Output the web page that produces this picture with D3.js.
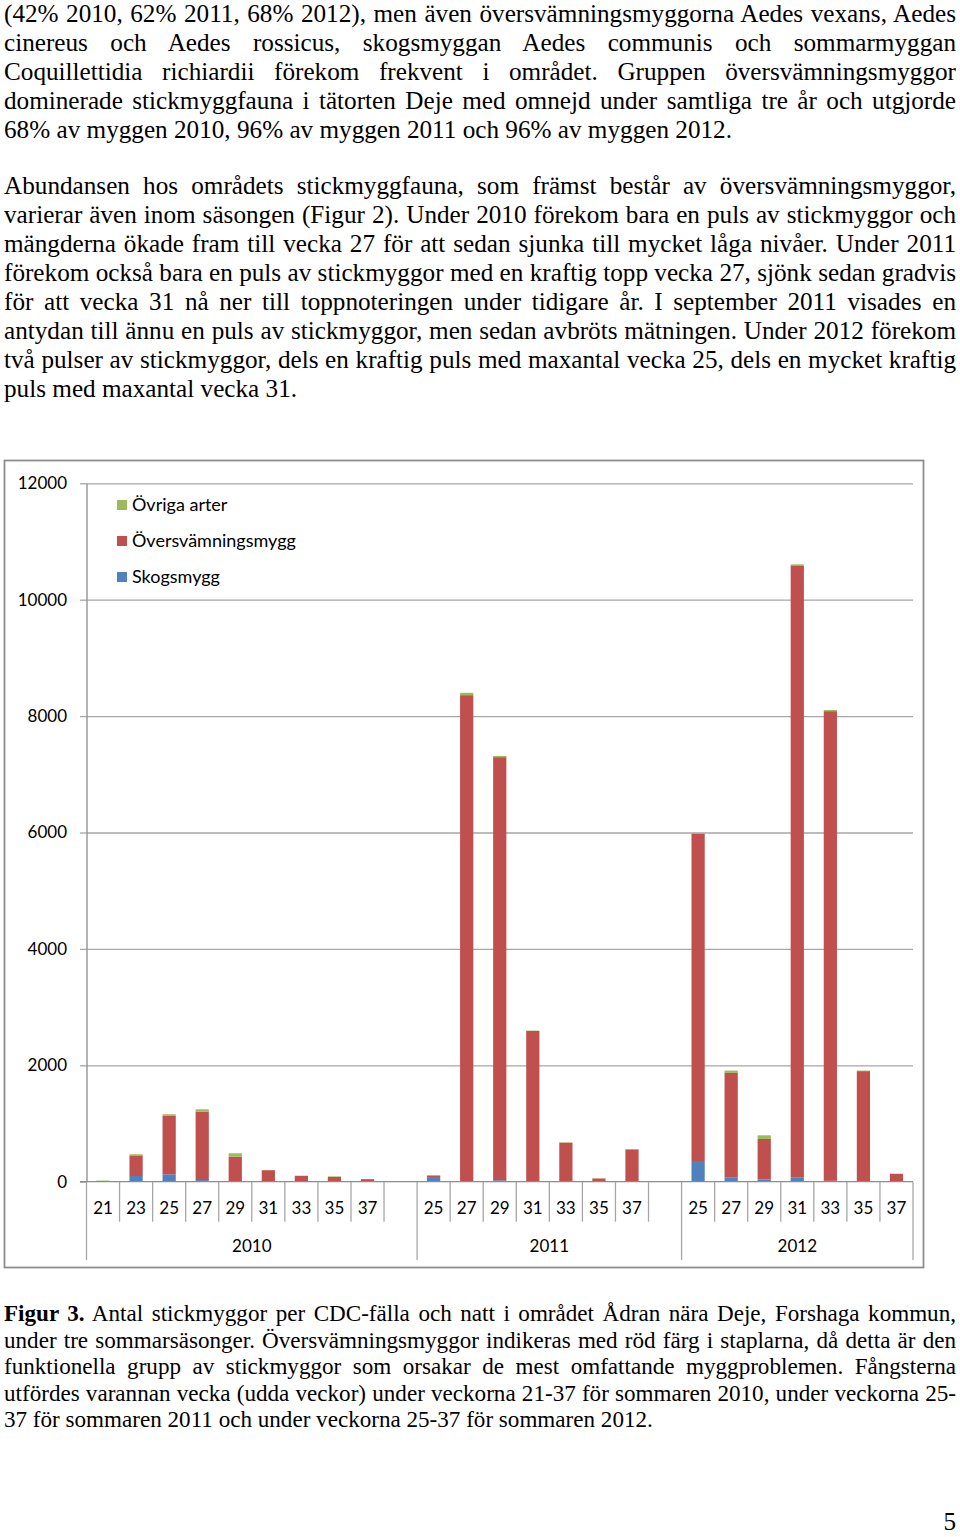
<!DOCTYPE html>
<html>
<head>
<meta charset="utf-8">
<script src="https://cdn.jsdelivr.net/npm/d3@7"></script>
<style>
  body { margin: 0; background: #fff; }
  svg { display: block; }
</style>
</head>
<body>
<svg id="page" width="960" height="1537"></svg>
<script>
// Chart data
var years = ['2010', '2011', '2012'];
var weeks2010 = ['21', '23', '25', '27', '29', '31', '33', '35', '37', ''];
var weeks2011 = ['25', '27', '29', '31', '33', '35', '37', ''];
var weeks2012 = ['25', '27', '29', '31', '33', '35', '37'];

// one value per category, null where the slot is empty
var skogsmygg = [2, 98, 127, 28, 8, 5, 3, 2, 2, null,
                 80, 10, 25, 10, 5, 5, 10, null,
                 356, 69, 40, 69, 15, 10, 5];
var oversvamningsmygg = [10, 353, 1011, 1176, 423, 193, 98, 80, 42, null,
                         20, 8350, 7270, 2580, 665, 50, 545, null,
                         5620, 1800, 694, 10510, 8070, 1890, 130];
var ovrigaArter = [8, 20, 20, 40, 57, 3, 2, 10, 2, null,
                   15, 40, 20, 7, 7, 3, 7, null,
                   14, 40, 63, 28, 19, 9, 3];

var seriesNames = ['Skogsmygg', 'Översvämningsmygg', 'Övriga arter'];
var seriesColors = ['#4F81BD', '#C0504D', '#9BBB59'];
var yTicks = [0, 2000, 4000, 6000, 8000, 10000, 12000];

// Page text
var para1 = [
  '(42% 2010, 62% 2011, 68% 2012), men även översvämningsmyggorna Aedes vexans, Aedes',
  'cinereus och Aedes rossicus, skogsmyggan Aedes communis och sommarmyggan',
  'Coquillettidia richiardii förekom frekvent i området. Gruppen översvämningsmyggor',
  'dominerade stickmyggfauna i tätorten Deje med omnejd under samtliga tre år och utgjorde',
  '68% av myggen 2010, 96% av myggen 2011 och 96% av myggen 2012.'
];
var para2 = [
  'Abundansen hos områdets stickmyggfauna, som främst består av översvämningsmyggor,',
  'varierar även inom säsongen (Figur 2). Under 2010 förekom bara en puls av stickmyggor och',
  'mängderna ökade fram till vecka 27 för att sedan sjunka till mycket låga nivåer. Under 2011',
  'förekom också bara en puls av stickmyggor med en kraftig topp vecka 27, sjönk sedan gradvis',
  'för att vecka 31 nå ner till toppnoteringen under tidigare år. I september 2011 visades en',
  'antydan till ännu en puls av stickmyggor, men sedan avbröts mätningen. Under 2012 förekom',
  'två pulser av stickmyggor, dels en kraftig puls med maxantal vecka 25, dels en mycket kraftig',
  'puls med maxantal vecka 31.'
];
var captionLabel = 'Figur 3.';
var caption = [
  ' Antal stickmyggor per CDC-fälla och natt i området Ådran nära Deje, Forshaga kommun,',
  'under tre sommarsäsonger. Översvämningsmyggor indikeras med röd färg i staplarna, då detta är den',
  'funktionella grupp av stickmyggor som orsakar de mest omfattande myggproblemen. Fångsterna',
  'utfördes varannan vecka (udda veckor) under veckorna 21-37 för sommaren 2010, under veckorna 25-',
  '37 för sommaren 2011 och under veckorna 25-37 för sommaren 2012.'
];

var svg = d3.select('#page');
svg.append('rect').attr('width', 960).attr('height', 1537).attr('fill', '#fff');

var textLeft = 4, textRight = 956;

// draws justified lines (last one left aligned)
function drawLines(lines, y0, lineH, size, boldFirst) {
    lines.forEach(function(line, i) {
        var t = svg.append('text')
            .attr('x', textLeft)
            .attr('y', y0 + i * lineH)
            .style('font-family', '"Liberation Serif", "Times New Roman", serif')
            .style('font-size', size + 'px')
            .attr('fill', '#000');
        if (boldFirst && i == 0) {
            t.append('tspan').style('font-weight', 'bold').text(boldFirst);
        }
        t.append('tspan').text(line);
        if (i < lines.length - 1) {
            var full = (boldFirst && i == 0 ? boldFirst : '') + line;
            var spaces = full.split(' ').length - 1;
            var w = t.node().getComputedTextLength();
            var extra = (textRight - textLeft - w) / spaces;
            t.style('word-spacing', extra + 'px');
        }
    });
}

drawLines(para1, 21.5, 29, 25.2);
drawLines(para2, 194, 29, 25.2);
drawLines(caption, 1321, 26.5, 23.1, captionLabel);

svg.append('text')
    .attr('x', 956).attr('y', 1530)
    .attr('text-anchor', 'end')
    .style('font-family', '"Liberation Serif", serif')
    .style('font-size', '25.2px')
    .text('5');

// ---- chart ----
var chartFont = 'Lato, "Open Sans", sans-serif';

svg.append('rect')
    .attr('x', 4.5).attr('y', 460.5)
    .attr('width', 919).attr('height', 807)
    .attr('fill', '#fff')
    .attr('stroke', '#8c8c8c')
    .attr('stroke-width', 1.8);

// categories
var groups = [weeks2010, weeks2011, weeks2012];
var categories = [];
groups.forEach(function(weeks, gi) {
    weeks.forEach(function(w, wi) {
        categories.push({key: years[gi] + '-' + wi, year: years[gi], week: w});
    });
});
var rows = categories.map(function(c, i) {
    return {
        key: c.key,
        'Skogsmygg': skogsmygg[i] || 0,
        'Översvämningsmygg': oversvamningsmygg[i] || 0,
        'Övriga arter': ovrigaArter[i] || 0
    };
});

var plot = {l: 86.5, r: 913, t: 483.3, b: 1181.7};

var x = d3.scaleBand()
    .domain(categories.map(function(d) { return d.key; }))
    .range([plot.l, plot.r])
    .paddingInner(0.6)
    .paddingOuter(0.3);

var y = d3.scaleLinear()
    .domain([0, 12000])
    .range([plot.b, plot.t]);

// gridlines
svg.append('g')
    .attr('transform', 'translate(' + plot.l + ',0)')
    .call(d3.axisLeft(y).tickValues(yTicks.slice(1)).tickSize(-(plot.r - plot.l)).tickFormat(''))
    .call(function(g) {
        g.select('.domain').remove();
        g.selectAll('.tick line').attr('stroke', '#a6a6a6').attr('stroke-width', 1.3);
    });

// y axis with labels
svg.append('g')
    .attr('transform', 'translate(' + plot.l + ',0)')
    .call(d3.axisLeft(y).tickValues(yTicks).tickFormat(d3.format('d'))
        .tickSize(6.5).tickPadding(13).tickSizeOuter(0))
    .call(function(g) {
        g.select('.domain').attr('stroke', '#8c8c8c').attr('stroke-width', 1.3);
        g.selectAll('.tick line').attr('stroke', '#a6a6a6').attr('stroke-width', 1.3);
        g.selectAll('.tick text')
            .style('font-family', chartFont)
            .style('font-size', '17px')
            .attr('fill', '#000');
    });

// stacked bars
var stack = d3.stack().keys(seriesNames);
var stacked = stack(rows);

svg.append('g').selectAll('g')
    .data(stacked)
    .enter().append('g')
    .attr('fill', function(d, i) { return seriesColors[i]; })
    .selectAll('rect')
    .data(function(d) { return d; })
    .enter().append('rect')
    .attr('x', function(d) { return x(d.data.key); })
    .attr('width', x.bandwidth())
    .attr('y', function(d) { return y(d[1]); })
    .attr('height', function(d) { return y(d[0]) - y(d[1]); });

// x axis line
svg.append('line')
    .attr('x1', plot.l - 6.5).attr('x2', plot.r)
    .attr('y1', plot.b).attr('y2', plot.b)
    .attr('stroke', '#8c8c8c').attr('stroke-width', 1.3);

// category separators and labels
var cellStart = function(k) { return x(k) - x.step() * 0.3; };
var axisG = svg.append('g');
categories.forEach(function(c, i) {
    var first = i == 0 || categories[i - 1].year != c.year;
    axisG.append('line')
        .attr('x1', cellStart(c.key)).attr('x2', cellStart(c.key))
        .attr('y1', plot.b).attr('y2', first ? 1260 : 1221.7)
        .attr('stroke', '#a6a6a6').attr('stroke-width', 1.3);
    axisG.append('text')
        .attr('x', x(c.key) + x.bandwidth() / 2)
        .attr('y', 1214)
        .attr('text-anchor', 'middle')
        .style('font-family', chartFont)
        .style('font-size', '17px')
        .text(c.week);
});
axisG.append('line')
    .attr('x1', plot.r).attr('x2', plot.r)
    .attr('y1', plot.b).attr('y2', 1260)
    .attr('stroke', '#a6a6a6').attr('stroke-width', 1.3);

years.forEach(function(yr) {
    var cats = categories.filter(function(c) { return c.year == yr; });
    var a = cellStart(cats[0].key);
    var b = cellStart(cats[cats.length - 1].key) + x.step();
    axisG.append('text')
        .attr('x', (a + b) / 2)
        .attr('y', 1252)
        .attr('text-anchor', 'middle')
        .style('font-family', chartFont)
        .style('font-size', '17px')
        .text(yr);
});

// legend (top to bottom: Övriga, Översvämning, Skogsmygg)
var legendOrder = [2, 1, 0];
var legend = svg.append('g').selectAll('g')
    .data(legendOrder)
    .enter().append('g')
    .attr('transform', function(d, i) { return 'translate(117,' + (500 + i * 36) + ')'; });
legend.append('rect')
    .attr('width', 10).attr('height', 10)
    .attr('fill', function(d) { return seriesColors[d]; });
legend.append('text')
    .attr('x', 15).attr('y', 11)
    .style('font-family', chartFont)
    .style('font-size', '18px')
    .text(function(d) { return seriesNames[d]; });
</script>
</body>
</html>
